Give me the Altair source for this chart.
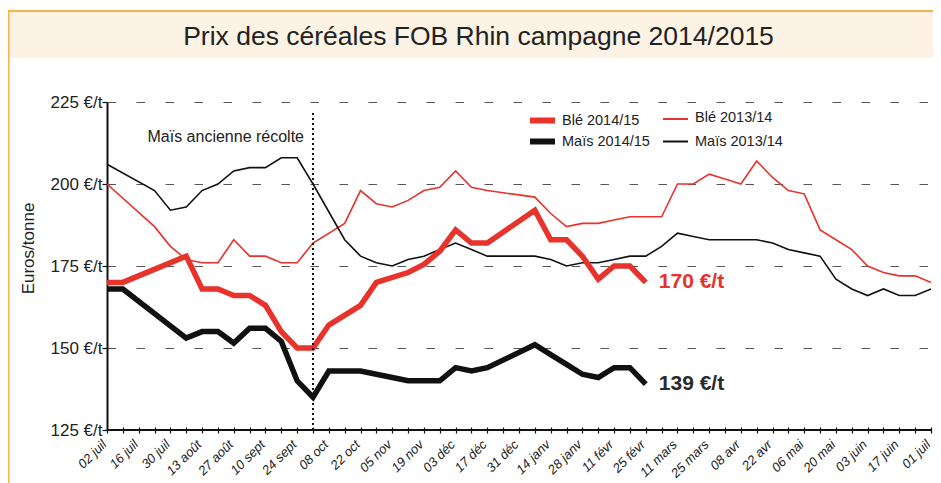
import json
import altair as alt
import pandas as pd

# ---------------- data ----------------
title_text = "Prix des céréales FOB Rhin campagne 2014/2015"
y_title = "Euros/tonne"
old_crop_text = "Maïs ancienne récolte"
old_crop_week = 13

tick_labels = ["02 juil", "16 juil", "30 juil", "13 août", "27 août", "10 sept", "24 sept",
               "08 oct", "22 oct", "05 nov", "19 nov", "03 déc", "17 déc", "31 déc",
               "14 janv", "28 janv", "11 févr", "25 févr", "11 mars", "25 mars", "08 avr",
               "22 avr", "06 mai", "20 mai", "03 juin", "17 juin", "01 juil"]
y_ticks = [125, 150, 175, 200, 225]

ble_1415_weeks = [0, 1, 5, 6, 7, 8, 9, 10, 11, 12, 13, 14, 16, 17, 19, 20, 21, 22, 23, 24,
                  27, 28, 29, 30, 31, 32, 33, 34]
ble_1415 = [170, 170, 178, 168, 168, 166, 166, 163, 155, 150, 150, 157, 163, 170, 173, 175.5,
            179.5, 186, 182, 182, 192, 183, 183, 178, 171, 175, 175, 170]

mais_1415_weeks = [0, 1, 5, 6, 7, 8, 9, 10, 11, 12, 13, 14, 16, 17, 19, 21, 22, 23, 24, 27,
                   28, 29, 30, 31, 32, 33, 34]
mais_1415 = [168, 168, 153, 155, 155, 151.5, 156, 156, 152, 140, 135, 143, 143, 142, 140, 140,
             144, 143, 144, 151, 148, 145, 142, 141, 144, 144, 139]

ble_1314_weeks = [0, 3, 4, 5, 6, 7, 8, 9, 10, 11, 12, 13, 15, 16, 17, 18, 19, 20, 21, 22, 23,
                  24, 27, 28, 29, 30, 31, 32, 33, 34, 35, 36, 37, 38, 39, 40, 41, 42, 43, 44,
                  45, 46, 47, 48, 49, 50, 51, 52]
ble_1314 = [200, 187, 181, 177, 176, 176, 183, 178, 178, 176, 176, 182, 188, 198, 194, 193, 195,
            198, 199, 204, 199, 198, 196, 191, 187, 188, 188, 189, 190, 190, 190, 200, 200, 203,
            201.5, 200, 207, 202, 198, 197, 186, 183, 180, 175, 173, 172, 172, 170]

mais_1314_weeks = [0, 3, 4, 5, 6, 7, 8, 9, 10, 11, 12, 13, 15, 16, 17, 18, 19, 20, 21, 22, 23,
                   24, 27, 28, 29, 30, 31, 32, 33, 34, 35, 36, 37, 38, 39, 40, 41, 42, 43, 44,
                   45, 46, 47, 48, 49, 50, 51, 52]
mais_1314 = [206, 198, 192, 193, 198, 200, 204, 205, 205, 208, 208, 200, 183, 178, 176, 175, 177,
             178, 180, 182, 180, 178, 178, 177, 175, 176, 176, 177, 178, 178, 181, 185, 184, 183,
             183, 183, 183, 182, 180, 179, 178, 171, 168, 166, 168, 166, 166, 168]

series_names = ["Blé 2014/15", "Maïs 2014/15", "Blé 2013/14", "Maïs 2013/14"]

# ---------------- styling ----------------
RED = "#E8322C"
BLACK = "#111111"
DARK = "#2a2a2a"
FONT = "Liberation Sans"
ORANGE = "#F6B34F"
CREAM = "#FDF3E4"
N_WEEKS = 52
W = 824

xscale = alt.Scale(domain=[0, N_WEEKS], nice=False, zero=False)
yscale = alt.Scale(domain=[125, 225], nice=False, zero=False)

labels_js = json.dumps(tick_labels, ensure_ascii=False)
x_axis = alt.Axis(
    values=list(range(N_WEEKS + 1)),
    labelExpr=f"datum.value % 2 == 0 ? {labels_js}[datum.value / 2] : ''",
    title=None, grid=False, domain=False, offset=-3,
    ticks=True, tickSize=6, tickColor=BLACK, tickWidth=1.2,
    labelAngle=-45, labelAlign="right", labelBaseline="middle", labelPadding=9,
    labelOffset=-3,
    labelFont=FONT, labelFontSize=13, labelFontStyle="italic", labelColor="#222",
    labelOverlap=False, labelFlush=False, labelBound=False,
)
y_axis = alt.Axis(
    values=y_ticks, labelExpr="datum.value + ' €/t'",
    title=y_title, titleFont=FONT, titleFontSize=17, titleFontWeight="normal",
    titleColor="#222", titleAngle=-90, titleX=-78.5, titleY=146,
    titleAlign="center", titleBaseline="middle",
    domain=True, domainColor=BLACK, domainWidth=2,
    ticks=True, tickSize=5, tickColor=BLACK, tickWidth=1.2,
    grid=True, gridDash=[8.5, 20.5], gridColor="#555", gridWidth=1.2,
    labelFont=FONT, labelFontSize=17, labelColor="#222", labelPadding=0,
    labelOverlap=False,
)


def series_df(weeks, vals, name):
    return pd.DataFrame({"week": weeks, "value": vals, "series": name})


one = pd.DataFrame({"k": [0]})


def line_layer(df, color, width):
    return alt.Chart(df).mark_line(color=color, strokeWidth=width, strokeJoin="miter").encode(
        x=alt.X("week:Q", scale=xscale, axis=x_axis),
        y=alt.Y("value:Q", scale=yscale, axis=y_axis),
        order="week:Q",
    )


d_ble_1314 = series_df(ble_1314_weeks, ble_1314, series_names[2])
d_mais_1314 = series_df(mais_1314_weeks, mais_1314, series_names[3])
d_ble_1415 = series_df(ble_1415_weeks, ble_1415, series_names[0])
d_mais_1415 = series_df(mais_1415_weeks, mais_1415, series_names[1])

# decorations: frame and title band
band = alt.Chart(one).mark_rect(fill=CREAM).encode(
    x=alt.value(-100), x2=alt.value(W + 5), y=alt.value(-91), y2=alt.value(-44))
frame_top = alt.Chart(one).mark_rule(color=ORANGE, strokeWidth=2).encode(
    x=alt.value(-100), x2=alt.value(W + 5), y=alt.value(-91))
frame_left = alt.Chart(one).mark_rule(color=ORANGE, strokeWidth=2).encode(
    x=alt.value(-98.5), y=alt.value(-92), y2=alt.value(390))
title = alt.Chart(one).mark_text(text=title_text, font=FONT, fontSize=26.5, color="#222",
                                 align="center", baseline="alphabetic").encode(
    x=alt.value(371.5), y=alt.value(-57))

# bottom axis line
x_line = alt.Chart(one).mark_rule(color=BLACK, strokeWidth=2).encode(
    x=alt.datum(0, scale=xscale, axis=x_axis), x2=alt.datum(N_WEEKS),
    y=alt.datum(125, scale=yscale, axis=y_axis))

# old crop dotted line + label
dotted = alt.Chart(one).mark_rule(color=BLACK, strokeWidth=2, strokeDash=[2, 3]).encode(
    x=alt.datum(old_crop_week, scale=xscale, axis=x_axis), y=alt.value(11), y2=alt.value(328))
old_label = alt.Chart(one).mark_text(text=old_crop_text, font=FONT, fontSize=16, color="#222",
                                     align="right", baseline="middle", dx=-9).encode(
    x=alt.datum(old_crop_week, scale=xscale, axis=x_axis), y=alt.value(34.5))


# legend
def legend_item(label, color, width, x0, y_sw, y_txt):
    sw = alt.Chart(one).mark_rule(color=color, strokeWidth=width).encode(
        x=alt.value(x0), x2=alt.value(x0 + 25), y=alt.value(y_sw))
    tx = alt.Chart(one).mark_text(text=label, font=FONT, fontSize=14.5, color="#222",
                                  align="left", baseline="middle").encode(
        x=alt.value(x0 + 32), y=alt.value(y_txt))
    return [sw, tx]


legend = []
legend += legend_item(series_names[0], RED, 6, 423, 18.5, 19)
legend += legend_item(series_names[1], BLACK, 6, 423, 39.5, 40)
legend += legend_item(series_names[2], RED, 2, 556, 17, 15.5)
legend += legend_item(series_names[3], BLACK, 2, 556, 39.5, 40)

# end labels
end_df = pd.DataFrame({
    "week": [ble_1415_weeks[-1], mais_1415_weeks[-1]],
    "value": [ble_1415[-1], mais_1415[-1]],
    "label": [f"{ble_1415[-1]:.0f} €/t", f"{mais_1415[-1]:.0f} €/t"],
    "col": [RED, DARK],
})
end_labels = alt.Chart(end_df).mark_text(font=FONT, fontSize=21, fontWeight="bold",
                                         align="left", baseline="middle", dx=13).encode(
    x=alt.X("week:Q", scale=xscale, axis=x_axis),
    y=alt.Y("value:Q", scale=yscale, axis=y_axis),
    text="label:N",
    color=alt.Color("col:N", scale=None),
)

chart = alt.layer(
    band, frame_top, frame_left, title,
    line_layer(d_ble_1314, RED, 1.6),
    line_layer(d_mais_1314, BLACK, 1.6),
    line_layer(d_ble_1415, RED, 5.5),
    line_layer(d_mais_1415, BLACK, 5.5),
    x_line, dotted, old_label, *legend, end_labels,
).properties(
    width=W, height=328,
    autosize=alt.AutoSizeParams(type="none"),
    padding={"left": 99, "top": 94, "right": 2, "bottom": 53},
    background="white",
).configure_view(
    stroke="transparent"
).configure_axisX(
    labelOverlap=False, labelFlush=False, labelBound=False
)

chart.save("out.html", embed_options={"renderer": "svg", "actions": False})
